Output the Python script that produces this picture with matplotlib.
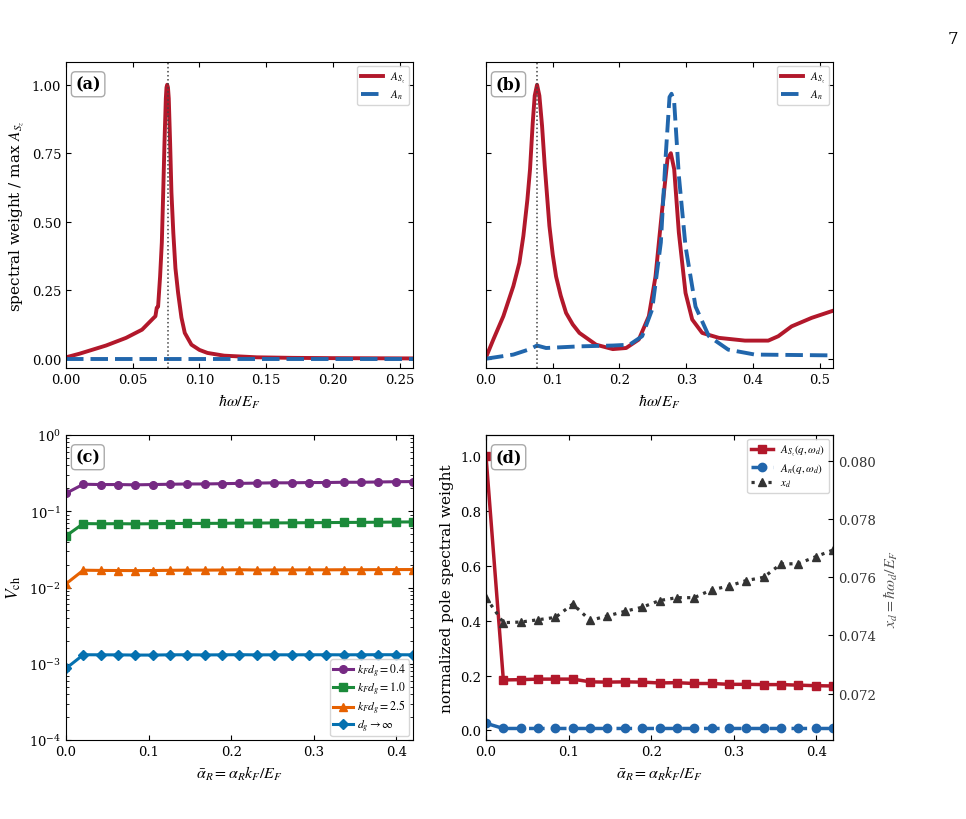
import numpy as np
import matplotlib
matplotlib.use("Agg")
import matplotlib.pyplot as plt

plt.rcParams['font.family'] = ['DejaVu Serif']
plt.rcParams['mathtext.fontset'] = 'stix'
plt.rcParams['xtick.direction'] = 'in'
plt.rcParams['ytick.direction'] = 'in'
plt.rcParams['xtick.top'] = True
plt.rcParams['ytick.right'] = True
plt.rcParams['xtick.labelsize'] = 9.5
plt.rcParams['ytick.labelsize'] = 9.5

RED = '#b2182b'
BLUE = '#2166ac'
DASH = (0, (4.5, 1.8))

# panel (a): spectral weight vs hbar omega / E_F
a_x_sz = [0.0, 0.010, 0.020, 0.030, 0.045, 0.057, 0.0657, 0.067, 0.068, 0.069, 0.0705,
          0.0718, 0.0728, 0.0738, 0.0748, 0.0753, 0.0758, 0.0764, 0.0770, 0.078, 0.079,
          0.0804, 0.082, 0.084, 0.0865, 0.089, 0.094, 0.100, 0.106, 0.1185, 0.143, 0.17,
          0.20, 0.26]
a_y_sz = [0.005, 0.018, 0.033, 0.048, 0.076, 0.106, 0.149, 0.155, 0.186, 0.19, 0.30,
          0.424, 0.60, 0.79, 0.95, 0.99, 1.0, 0.99, 0.95, 0.79, 0.607,
          0.46, 0.33, 0.24, 0.15, 0.094, 0.051, 0.032, 0.021, 0.011, 0.005, 0.003,
          0.002, 0.001]
a_x_n = [0.0, 0.26]
a_y_n = [0.0, 0.0]

# panel (b)
b_x_sz = [0.0, 0.011, 0.026, 0.041, 0.050, 0.056, 0.062, 0.066, 0.070, 0.073, 0.0765,
          0.080, 0.084, 0.088, 0.095, 0.100, 0.105, 0.112, 0.120, 0.130, 0.140, 0.165,
          0.19, 0.21, 0.229, 0.244, 0.254, 0.264, 0.272, 0.277, 0.282, 0.289, 0.299,
          0.309, 0.324, 0.349, 0.388, 0.423, 0.438, 0.458, 0.488, 0.52]
b_y_sz = [0.005, 0.07, 0.155, 0.265, 0.35, 0.448, 0.58, 0.692, 0.86, 0.96, 1.0,
          0.96, 0.85, 0.705, 0.485, 0.38, 0.30, 0.23, 0.167, 0.125, 0.094, 0.051,
          0.035, 0.039, 0.07, 0.155, 0.30, 0.545, 0.729, 0.75, 0.692, 0.46, 0.24,
          0.143, 0.094, 0.076, 0.066, 0.066, 0.082, 0.118, 0.149, 0.175]
b_x_n = [0.0, 0.041, 0.066, 0.0765, 0.09, 0.14, 0.19, 0.215, 0.234, 0.249, 0.262,
         0.269, 0.275, 0.278, 0.282, 0.289, 0.299, 0.314, 0.334, 0.363, 0.403, 0.52]
b_y_n = [0.0, 0.015, 0.035, 0.048, 0.039, 0.045, 0.048, 0.051, 0.082, 0.18, 0.424,
         0.729, 0.955, 0.967, 0.937, 0.668, 0.41, 0.19, 0.082, 0.033, 0.015, 0.012]
omega_d = 0.0765

# panels (c), (d): vs alpha_R bar
alpha = [0.0, 0.021, 0.042, 0.063, 0.084, 0.105, 0.126, 0.147, 0.168, 0.189, 0.21,
         0.231, 0.252, 0.273, 0.294, 0.315, 0.336, 0.357, 0.378, 0.399, 0.42]
v_04 = [0.172, 0.226, 0.224, 0.224, 0.222, 0.224, 0.226, 0.228, 0.228, 0.230, 0.232,
        0.234, 0.236, 0.236, 0.238, 0.238, 0.240, 0.240, 0.242, 0.244, 0.245]
v_10 = [0.0475, 0.0689, 0.0685, 0.0687, 0.0683, 0.0686, 0.0690, 0.0693, 0.0693, 0.0695,
        0.0700, 0.0700, 0.0703, 0.0705, 0.0708, 0.0710, 0.0713, 0.0715, 0.0718, 0.0722, 0.0725]
v_25 = [0.01117, 0.01686, 0.01675, 0.01670, 0.01665, 0.01670, 0.01680, 0.01690, 0.01690,
        0.01695, 0.01710, 0.01695, 0.01700, 0.01700, 0.01705, 0.01705, 0.01710, 0.01710,
        0.01715, 0.01718, 0.0172]
v_inf = [0.000869, 0.001313, 0.001310, 0.001308, 0.001300, 0.001300, 0.001310, 0.001312,
         0.001305, 0.001310, 0.001315, 0.001308, 0.001310, 0.001310, 0.001312, 0.001312,
         0.001310, 0.001312, 0.001314, 0.001313, 0.00131]

w_sz = [1.0, 0.184, 0.185, 0.187, 0.187, 0.187, 0.177, 0.176, 0.177, 0.176, 0.173,
        0.174, 0.171, 0.171, 0.168, 0.168, 0.167, 0.167, 0.165, 0.163, 0.162]
w_n = [0.026, 0.007, 0.007, 0.007, 0.007, 0.007, 0.007, 0.007, 0.007, 0.007, 0.007,
       0.007, 0.007, 0.007, 0.007, 0.007, 0.007, 0.007, 0.007, 0.007, 0.007]
x_d = [0.07530, 0.07444, 0.07446, 0.07454, 0.07462, 0.07508, 0.07452, 0.07467, 0.07483,
       0.07497, 0.07520, 0.07530, 0.07530, 0.07557, 0.07570, 0.07589, 0.07600, 0.07646,
       0.07647, 0.07671, 0.07694]


def panel_label(ax, txt):
    ax.text(0.027, 0.955, txt, transform=ax.transAxes, ha='left', va='top',
            fontsize=11.5, fontweight='bold',
            bbox=dict(boxstyle='round,pad=0.25', fc='white', ec='#aaaaaa', lw=1.0))


fig = plt.figure(figsize=(9.66, 8.2), dpi=100)
W, H = 966.0, 820.0


def add_ax(l, t, r, b):
    return fig.add_axes([l / W, 1 - b / H, (r - l) / W, (b - t) / H])


axa = add_ax(66, 63, 413, 369)
axb = add_ax(486, 63, 833, 369)
axc = add_ax(66, 436, 413, 741)
axd = add_ax(486, 436, 833, 741)

leg_kw = dict(fontsize=8, handlelength=2.0, borderpad=0.35, labelspacing=0.25,
              handletextpad=0.6, borderaxespad=0.35)

# (a)
axa.plot(a_x_sz, a_y_sz, color=RED, lw=2.8, label=r'$A_{S_z}$')
axa.plot(a_x_n, a_y_n, color=BLUE, lw=2.8, ls=DASH, label=r'$A_n$')
axa.axvline(omega_d, color='#444444', ls=':', lw=1.1)
axa.set_xlim(0, 0.26)
axa.set_ylim(-0.034, 1.083)
axa.set_xticks([0.0, 0.05, 0.10, 0.15, 0.20, 0.25])
axa.set_yticks([0.0, 0.25, 0.5, 0.75, 1.0])
axa.xaxis.set_major_formatter(matplotlib.ticker.FormatStrFormatter('%.2f'))
axa.yaxis.set_major_formatter(matplotlib.ticker.FormatStrFormatter('%.2f'))
axa.set_xlabel(r'$\hbar\omega/E_F$', fontsize=11.5)
axa.set_ylabel(r'spectral weight / max $A_{S_z}$', fontsize=11)
axa.legend(loc='upper right', **leg_kw)
panel_label(axa, '(a)')

# (b)
axb.plot(b_x_sz, b_y_sz, color=RED, lw=2.8, label=r'$A_{S_z}$')
axb.plot(b_x_n, b_y_n, color=BLUE, lw=2.8, ls=DASH, label=r'$A_n$')
axb.axvline(omega_d, color='#444444', ls=':', lw=1.1)
axb.set_xlim(0, 0.52)
axb.set_ylim(-0.034, 1.083)
axb.set_xticks([0.0, 0.1, 0.2, 0.3, 0.4, 0.5])
axb.set_yticks([0.0, 0.25, 0.5, 0.75, 1.0])
axb.tick_params(labelleft=False)
axb.set_xlabel(r'$\hbar\omega/E_F$', fontsize=11.5)
axb.legend(loc='upper right', **leg_kw)
panel_label(axb, '(b)')

# (c)
axc.semilogy(alpha, v_04, color='#762a83', lw=2.2, marker='o', ms=5.5, label=r'$k_F d_g = 0.4$')
axc.semilogy(alpha, v_10, color='#1b8a3a', lw=2.2, marker='s', ms=5.5, label=r'$k_F d_g = 1.0$')
axc.semilogy(alpha, v_25, color='#e66101', lw=2.2, marker='^', ms=6, label=r'$k_F d_g = 2.5$')
axc.semilogy(alpha, v_inf, color='#0571b0', lw=2.2, marker='D', ms=5.5, label=r'$d_g \to \infty$')
axc.set_xlim(0, 0.42)
axc.set_ylim(1e-4, 1e0)
axc.set_xticks([0.0, 0.1, 0.2, 0.3, 0.4])
axc.tick_params(which='minor', direction='in', top=True, right=True)
axc.set_xlabel(r'$\bar{\alpha}_R = \alpha_R k_F/E_F$', fontsize=11.5)
axc.set_ylabel(r'$V_{\rm ch}$', fontsize=12.5)
axc.legend(loc='lower right', fontsize=8.5, handlelength=1.7, borderpad=0.2,
           labelspacing=0.1, handletextpad=0.4, borderaxespad=0.35)
panel_label(axc, '(c)')

# (d)
l1, = axd.plot(alpha, w_sz, color=RED, lw=2.5, marker='s', ms=6, label=r'$A_{S_z}(q,\omega_d)$')
l2, = axd.plot(alpha, w_n, color=BLUE, lw=2.5, ls=DASH, marker='o', ms=6,
               label=r'$A_n(q,\omega_d)$')
axd.set_xlim(0, 0.42)
axd.set_ylim(-0.035, 1.077)
axd.set_xticks([0.0, 0.1, 0.2, 0.3, 0.4])
axd.set_yticks([0.0, 0.2, 0.4, 0.6, 0.8, 1.0])
axd.tick_params(right=False)
axd.set_xlabel(r'$\bar{\alpha}_R = \alpha_R k_F/E_F$', fontsize=11.5)
axd.set_ylabel('normalized pole spectral weight', fontsize=11)
axd2 = axd.twinx()
l3, = axd2.plot(alpha, x_d, color='#333333', lw=2.3, ls=':', marker='^', ms=5.5, label=r'$x_d$')
axd2.set_ylim(0.0704, 0.0809)
axd2.set_yticks([0.072, 0.074, 0.076, 0.078, 0.080])
axd2.yaxis.set_major_formatter(matplotlib.ticker.FormatStrFormatter('%.3f'))
axd2.tick_params(axis='y', direction='in', labelcolor='#333333')
axd2.set_ylabel(r'$x_d = \hbar\omega_d/E_F$', fontsize=11.5, color='#555555')
axd.legend([l1, l2, l3], [l.get_label() for l in (l1, l2, l3)], loc='upper right', **leg_kw)
panel_label(axd, '(d)')

fig.text(953 / W, 1 - 40 / H, '7', fontsize=12, ha='center', va='center')

fig.savefig('out.png', dpi=100)
